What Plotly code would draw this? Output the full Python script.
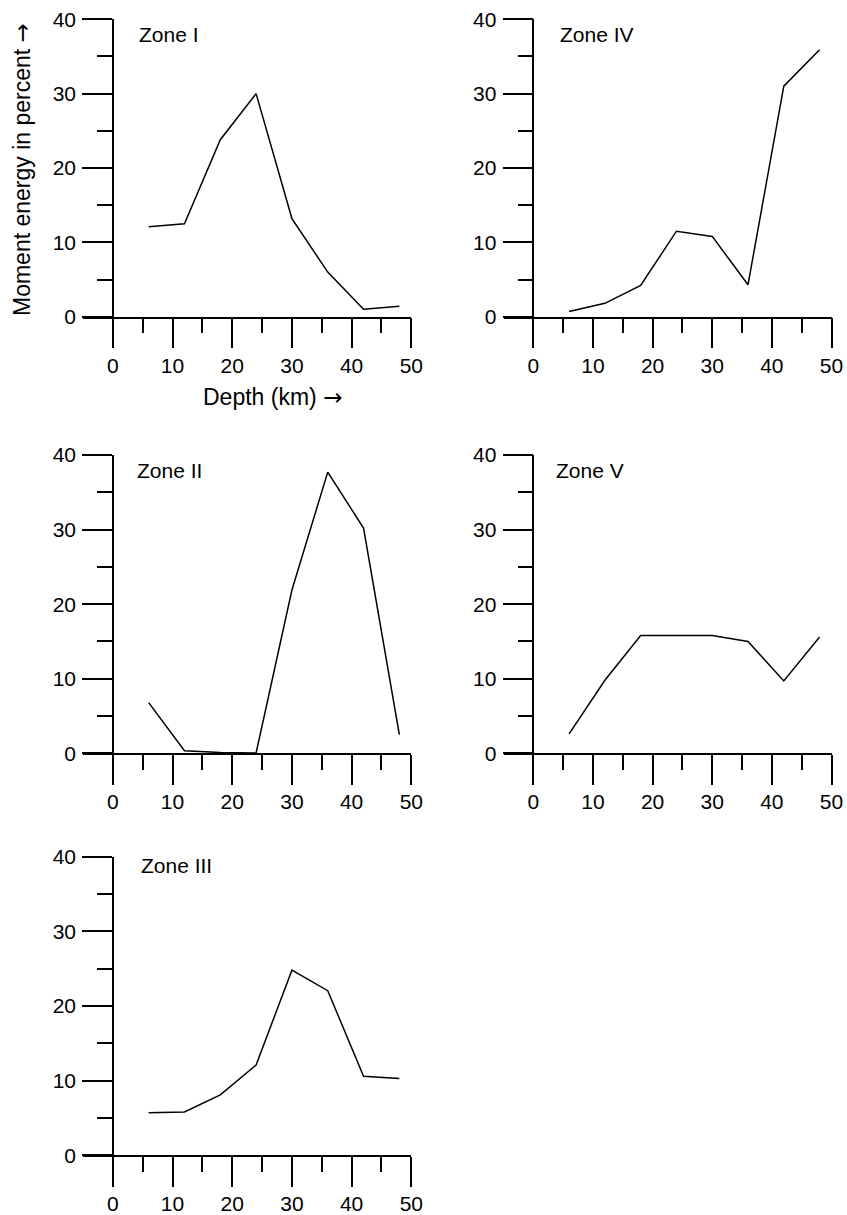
import plotly.graph_objects as go

depth = [6, 12, 18, 24, 30, 36, 42, 48]
zone_1 = [12.1, 12.5, 23.8, 30.0, 13.2, 6.0, 1.0, 1.4]
zone_2 = [6.8, 0.35, 0.1, 0.05, 21.9, 37.7, 30.2, 2.5]
zone_3 = [5.7, 5.8, 8.1, 12.1, 24.8, 22.05, 10.6, 10.3]
zone_4 = [0.7, 1.8, 4.2, 11.5, 10.8, 4.3, 31.0, 35.9]
zone_5 = [2.6, 9.8, 15.8, 15.8, 15.8, 15.0, 9.7, 15.6]
zone_names = ["Zone I", "Zone II", "Zone III", "Zone IV", "Zone V"]
x_ticks = [0, 10, 20, 30, 40, 50]
y_ticks = [0, 10, 20, 30, 40]

W, H = 847, 1215
FONT = "Arial, Liberation Sans, sans-serif"
FS = 21

def px_x(p):
    return p / W

def px_y(p):
    return 1 - p / H

cols = {0: (83, 113, 411.3), 1: (503.5, 533.3, 831.5)}
rows = {0: (19.3, 316.7), 1: (455, 753.3), 2: (856.7, 1155.3)}

panels = [
    (zone_names[0], zone_1, 0, 0, (4.0, 37.9)),
    (zone_names[1], zone_2, 0, 1, (3.7, 37.9)),
    (zone_names[2], zone_3, 0, 2, (4.4, 38.8)),
    (zone_names[3], zone_4, 1, 0, (4.2, 37.9)),
    (zone_names[4], zone_5, 1, 1, (3.5, 37.9)),
]

fig = go.Figure()
layout = dict(
    width=W, height=H, autosize=False,
    margin=dict(l=0, r=0, t=0, b=0, pad=0, autoexpand=False),
    paper_bgcolor="white", plot_bgcolor="white",
    showlegend=False,
    font=dict(family=FONT, color="black", size=FS),
)
annotations = []

for i, (name, vals, c, r, lab) in enumerate(panels):
    n = i + 1
    xa = "xaxis" if n == 1 else f"xaxis{n}"
    ya = "yaxis" if n == 1 else f"yaxis{n}"
    xr = "x" if n == 1 else f"x{n}"
    yr = "y" if n == 1 else f"y{n}"
    xl, x0, xrgt = cols[c]
    yt, yb = rows[r]
    fig.add_trace(go.Scatter(x=depth, y=vals, mode="lines",
                             line=dict(color="black", width=1.5),
                             xaxis=xr, yaxis=yr, hoverinfo="skip"))
    layout[xa] = dict(
        domain=[px_x(xl), px_x(xrgt)], range=[-5, 50], anchor=yr,
        automargin=False,
        showline=True, linecolor="black", linewidth=1.5,
        showgrid=False, zeroline=False,
        tickmode="array", tickvals=x_ticks, ticks="outside", ticklen=30,
        tickwidth=1.5, tickcolor="black",
        minor=dict(tickmode="array", tickvals=[5, 15, 25, 35, 45], ticks="outside",
                   ticklen=15, tickwidth=1.5, tickcolor="black"),
        tickfont=dict(family=FONT, size=FS, color="black"),
        ticklabelstandoff=-1,
        fixedrange=True,
    )
    layout[ya] = dict(
        domain=[px_y(yb), px_y(yt)], range=[0, 40], anchor="free",
        position=px_x(x0), automargin=False,
        showline=True, linecolor="black", linewidth=1.5,
        showgrid=False, zeroline=False,
        tickmode="array", tickvals=y_ticks, ticks="outside", ticklen=30,
        tickwidth=1.5, tickcolor="black",
        minor=dict(tickmode="array", tickvals=[5, 15, 25, 35], ticks="outside",
                   ticklen=15, tickwidth=1.5, tickcolor="black"),
        tickfont=dict(family=FONT, size=FS, color="black"),
        ticklabelstandoff=2,
        fixedrange=True,
    )
    annotations.append(dict(
        text=name, x=lab[0], y=lab[1], xref=xr, yref=yr,
        xanchor="left", yanchor="middle", showarrow=False,
        font=dict(family=FONT, size=FS, color="black"),
    ))

ARROW = '<span style="font-family:DejaVu Sans">\u2192</span>'
annotations.append(dict(
    text="Moment energy in percent " + ARROW, x=px_x(22), y=px_y(170),
    xref="paper", yref="paper", textangle=-90, showarrow=False,
    xanchor="center", yanchor="middle",
    font=dict(family=FONT, size=23, color="black"),
))
annotations.append(dict(
    text="Depth (km) " + ARROW, x=px_x(272), y=px_y(397),
    xref="paper", yref="paper", showarrow=False,
    xanchor="center", yanchor="middle",
    font=dict(family=FONT, size=23, color="black"),
))
layout["annotations"] = annotations
fig.update_layout(**layout)
fig.write_html(
    "out.html",
    config={"responsive": False, "displayModeBar": False},
    post_script="document.body.style.margin='0';document.body.style.overflow='hidden';",
)
